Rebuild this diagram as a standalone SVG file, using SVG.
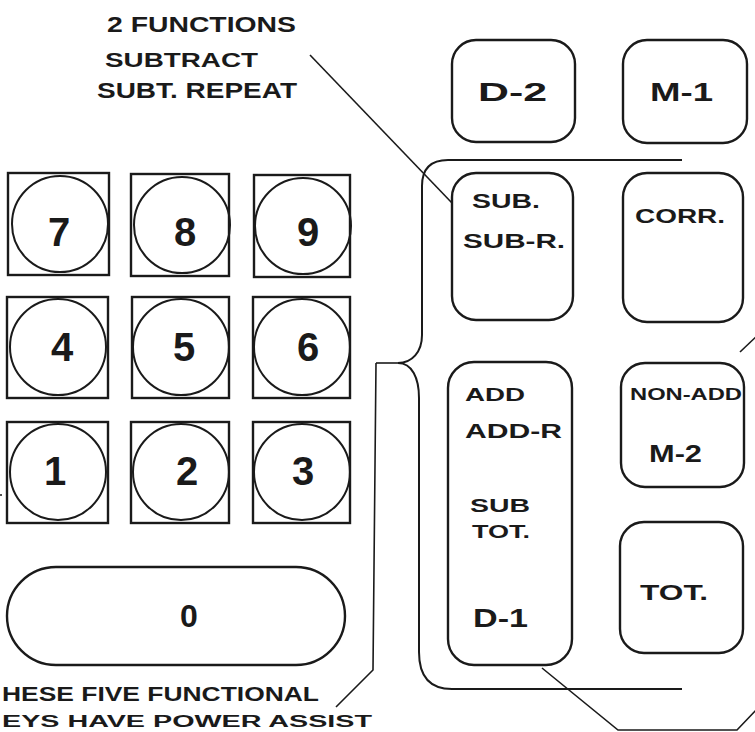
<svg xmlns="http://www.w3.org/2000/svg" width="755" height="732" viewBox="0 0 755 732">
<style>
.k{fill:none;stroke:#1a1a1a;stroke-width:2.4}
.c{fill:none;stroke:#1a1a1a;stroke-width:2}
.l{fill:none;stroke:#1a1a1a;stroke-width:1.6}
text{font-family:"Liberation Sans","DejaVu Sans",sans-serif;font-weight:700;fill:#1a1a1a}
.d{font-size:40px;text-anchor:middle}
</style>
<rect x="0" y="0" width="755" height="732" fill="#ffffff"/>
<g id="annotations">
<text x="107" y="32" font-size="22" textLength="189" lengthAdjust="spacingAndGlyphs">2 FUNCTIONS</text>
<text x="105" y="67" font-size="20" textLength="153" lengthAdjust="spacingAndGlyphs">SUBTRACT</text>
<text x="97" y="98" font-size="22" textLength="200" lengthAdjust="spacingAndGlyphs">SUBT. REPEAT</text>
<text x="2" y="701" font-size="21" textLength="317" lengthAdjust="spacingAndGlyphs">HESE FIVE FUNCTIONAL</text>
<text x="2" y="727" font-size="16" textLength="370" lengthAdjust="spacingAndGlyphs">EYS HAVE POWER ASSIST</text>
</g>
<g id="key-7"><rect class="k" x="8" y="173" width="101" height="102"/><circle class="c" cx="60" cy="224" r="48"/><text class="d" x="59" y="246">7</text></g>
<g id="key-8"><rect class="k" x="131" y="174" width="98" height="102"/><circle class="c" cx="182" cy="225" r="48"/><text class="d" x="185" y="246">8</text></g>
<g id="key-9"><rect class="k" x="254" y="175" width="96" height="102"/><circle class="c" cx="303" cy="226" r="48"/><text class="d" x="308" y="246">9</text></g>
<g id="key-4"><rect class="k" x="7" y="297" width="101" height="101"/><circle class="c" cx="58" cy="347" r="48"/><text class="d" x="62" y="361">4</text></g>
<g id="key-5"><rect class="k" x="132" y="297" width="97" height="101"/><circle class="c" cx="181" cy="347" r="48"/><text class="d" x="184" y="361">5</text></g>
<g id="key-6"><rect class="k" x="253" y="297" width="97" height="101"/><circle class="c" cx="302" cy="347" r="48"/><text class="d" x="308" y="361">6</text></g>
<g id="key-1"><rect class="k" x="7" y="422" width="101" height="101"/><circle class="c" cx="58" cy="472" r="48"/><text class="d" x="55" y="485">1</text></g>
<g id="key-2"><rect class="k" x="131" y="422" width="98" height="101"/><circle class="c" cx="181" cy="472" r="48"/><text class="d" x="187" y="485">2</text></g>
<g id="key-3"><rect class="k" x="253" y="422" width="97" height="101"/><circle class="c" cx="302" cy="472" r="48"/><text class="d" x="303" y="485">3</text></g>
<g id="key-0"><rect class="k" x="7" y="567" width="338" height="98" rx="49"/><text x="189" y="627" font-size="32" text-anchor="middle">0</text></g>
<g id="key-d2"><rect class="k" x="452" y="40" width="123" height="102" rx="24"/><text x="478" y="101" font-size="26" textLength="69" lengthAdjust="spacingAndGlyphs">D-2</text></g>
<g id="key-m1"><rect class="k" x="623" y="40" width="124" height="103" rx="24"/><text x="650" y="101" font-size="26" textLength="63" lengthAdjust="spacingAndGlyphs">M-1</text></g>
<g id="key-sub"><rect class="k" x="452" y="173" width="121" height="147" rx="24"/><text x="472" y="208" font-size="20" textLength="68" lengthAdjust="spacingAndGlyphs">SUB.</text><text x="463" y="248" font-size="20" textLength="102" lengthAdjust="spacingAndGlyphs">SUB-R.</text></g>
<g id="key-corr"><rect class="k" x="623" y="173" width="120" height="149" rx="24"/><text x="635" y="223" font-size="20" textLength="90" lengthAdjust="spacingAndGlyphs">CORR.</text></g>
<g id="key-add"><rect class="k" x="448" y="362" width="124" height="303" rx="26"/>
<text x="465" y="401" font-size="19" textLength="60" lengthAdjust="spacingAndGlyphs">ADD</text>
<text x="465" y="438" font-size="20" textLength="97" lengthAdjust="spacingAndGlyphs">ADD-R</text>
<text x="470" y="512" font-size="19" textLength="60" lengthAdjust="spacingAndGlyphs">SUB</text>
<text x="472" y="538" font-size="19" textLength="58" lengthAdjust="spacingAndGlyphs">TOT.</text>
<text x="473" y="627" font-size="25" textLength="55" lengthAdjust="spacingAndGlyphs">D-1</text></g>
<g id="key-nonadd"><rect class="k" x="621" y="363" width="123" height="124" rx="24"/><text x="630" y="400" font-size="16" textLength="112" lengthAdjust="spacingAndGlyphs">NON-ADD</text><text x="649" y="462" font-size="23" textLength="53" lengthAdjust="spacingAndGlyphs">M-2</text></g>
<g id="key-tot"><rect class="k" x="620" y="522" width="123" height="131" rx="24"/><text x="640" y="600" font-size="22" textLength="68" lengthAdjust="spacingAndGlyphs">TOT.</text></g>
<g id="connectors">
<path class="c" d="M682,160 H448 Q422,160 422,186 V335 C422,352 412,363 398,363 C412,363 419,378 419,398 V652 Q419,689 452,689 H682"/>
<path class="l" d="M376,363 H398"/>
<path class="l" d="M376,363 L373,670 L336,707"/>
<path class="l" d="M310,55 L452,203"/>
<path class="l" d="M542,668 L618,730 H737 L760,706"/>
<path class="l" d="M740,352 L760,333"/>
<path class="l" d="M-4,495 L2,495"/>
</g>
</svg>
